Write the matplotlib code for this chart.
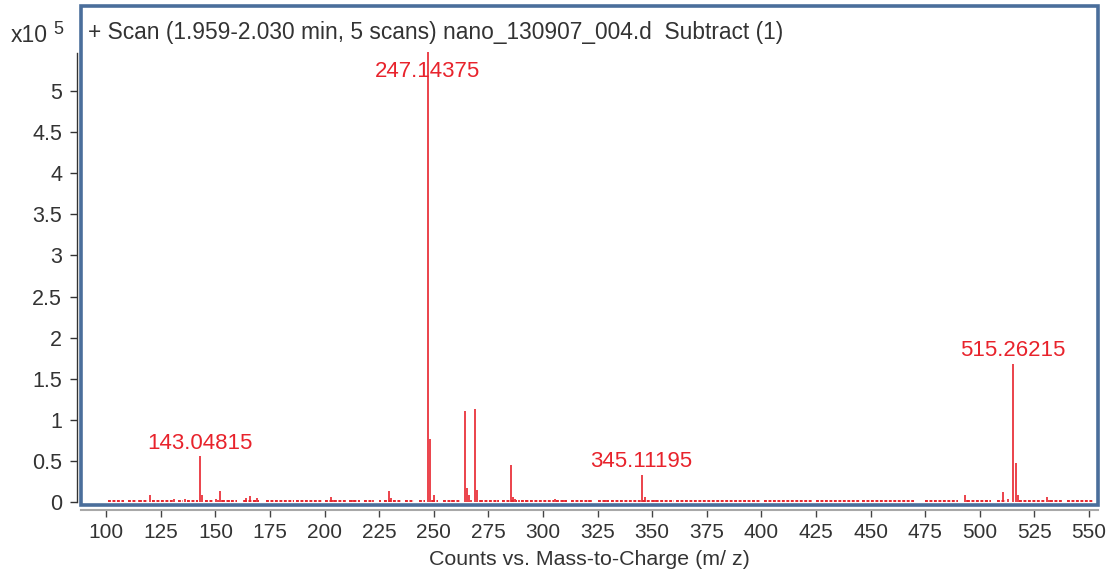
import matplotlib
matplotlib.use("Agg")
import matplotlib.pyplot as plt
from matplotlib.patches import Rectangle

plt.rcParams['font.family'] = ['Liberation Sans', 'DejaVu Sans']

# Centroided peaks: m/z and intensity (x10^5 counts)
peak_mz = [115.1, 120.0, 130.9, 136.0, 143.04815, 144.05, 150.2, 151.0, 152.0, 153.0,
           156.0, 163.0, 164.0, 166.0, 168.0, 169.0, 202.9, 204.0, 212.5, 213.5,
           222.0, 229.6, 230.6, 247.14375, 248.15, 249.0, 250.0, 258.5, 264.2, 265.1,
           266.0, 266.9, 269.0, 269.9, 271.0, 279.4, 285.2, 286.2, 287.1, 289.0,
           292.1, 305.3, 309.0, 310.0, 321.0, 329.0, 345.11195, 346.7, 351.3, 493.3,
           494.2, 503.1, 510.7, 512.7, 515.26215, 516.4, 517.3, 530.7, 531.6]
peak_int = [0.02, 0.08, 0.04, 0.04, 0.56, 0.08, 0.04, 0.03, 0.13, 0.03,
            0.02, 0.03, 0.05, 0.07, 0.03, 0.05, 0.06, 0.02, 0.03, 0.03,
            0.02, 0.13, 0.05, 5.47, 0.77, 0.02, 0.08, 0.02, 1.11, 0.17,
            0.08, 0.03, 1.13, 0.15, 0.02, 0.02, 0.45, 0.06, 0.04, 0.02,
            0.02, 0.04, 0.02, 0.02, 0.02, 0.02, 0.33, 0.06, 0.03, 0.085,
            0.03, 0.02, 0.125, 0.04, 1.68, 0.47, 0.08, 0.06, 0.02]

# Annotated peaks
label_mz = [143.04815, 247.14375, 345.11195, 515.26215]
label_int = [0.56, 5.47, 0.33, 1.68]
label_text = ["143.04815", "247.14375", "345.11195", "515.26215"]

# Runs of low-level baseline signal (m/z start, m/z end)
noise_runs = [(101, 108), (110, 114), (115, 119), (121, 131), (133, 135), (137, 142),
              (145, 149), (153, 160), (163, 170), (173, 186), (187, 199), (200, 210),
              (211, 216), (218, 222), (225, 226), (227, 235), (237, 241), (243, 246),
              (249, 252), (254, 262), (271, 280), (281, 288), (290, 305), (306, 311),
              (313, 323), (325, 330), (331, 360), (361, 400), (401, 423), (425, 445),
              (446, 470), (475, 490), (494, 505), (508, 512), (518, 530), (532, 538),
              (540, 552)]
noise_level = 0.012

x_ticks = list(range(100, 551, 25))
y_ticks = [0, 0.5, 1, 1.5, 2, 2.5, 3, 3.5, 4, 4.5, 5]
y_ticklabels = ["0", "0.5", "1", "1.5", "2", "2.5", "3", "3.5", "4", "4.5", "5"]

title = "+ Scan (1.959-2.030 min, 5 scans) nano_130907_004.d  Subtract (1)"
xlabel = "Counts vs. Mass-to-Charge (m/ z)"

RED = "#e8232c"
TXT = "#333333"
FRAME = "#4a6e9b"

W, H, DPI = 1107, 573, 100
fig = plt.figure(figsize=(W / DPI, H / DPI), dpi=DPI)
ax = fig.add_axes([80.5 / W, 1 - 505 / H, (1097.5 - 80.5) / W, (505 - 5.5) / H])

ax.set_xlim(88.2, 553.9)
ax.set_ylim(-0.036, 6.04)

# spectrum
ax.vlines(peak_mz, 0, peak_int, color=RED, lw=1.2, zorder=3)
for a, b in noise_runs:
    ax.hlines(noise_level, a, b, color=RED, lw=1.4, linestyles=(0, (1.5, 0.8)), zorder=2)

# peak labels (kept below the title line)
label_ceiling = 5.08
for mz, h, t in zip(label_mz, label_int, label_text):
    ax.annotate(t, xy=(mz, min(h, label_ceiling)), xytext=(0, 1.8), textcoords="offset points",
                ha="center", va="bottom", color=RED, fontsize=16, zorder=5)

# axes styling
for s in ("top", "right"):
    ax.spines[s].set_visible(False)
ax.spines["left"].set_position(("outward", 2.2))
ax.spines["left"].set_bounds(0, 5.46)
ax.spines["left"].set_color(TXT)
ax.spines["left"].set_linewidth(1.0)
ax.spines["bottom"].set_position(("outward", 3.8))
ax.spines["bottom"].set_color("#a8a8a8")
ax.spines["bottom"].set_linewidth(1.5)

ax.set_xticks(x_ticks)
ax.set_xticklabels([str(v) for v in x_ticks])
ax.set_yticks(y_ticks)
ax.set_yticklabels(y_ticklabels)
ax.tick_params(axis="x", length=5, width=1.0, color="#444444", labelsize=15,
               labelcolor=TXT, pad=4)
ax.tick_params(axis="y", length=5, width=1.0, color=TXT, labelsize=15.5,
               labelcolor=TXT, pad=6)

ax.add_patch(Rectangle((0, 0), 1, 1, transform=ax.transAxes, fill=False,
                       ec=FRAME, lw=2.6, clip_on=False, zorder=10))

ax.set_xlabel(xlabel, fontsize=15.4, color=TXT, labelpad=6)

fig.text(88 / W, 1 - 33 / H, title, fontsize=16.4, color=TXT, va="center", ha="left")
fig.text(11 / W, 1 - 35 / H, "x10", fontsize=16.5, color=TXT, va="center", ha="left")
fig.text(53 / W, 1 - 30 / H, "5", fontsize=13, color=TXT, va="center", ha="left")

fig.savefig("out.png", dpi=DPI)
